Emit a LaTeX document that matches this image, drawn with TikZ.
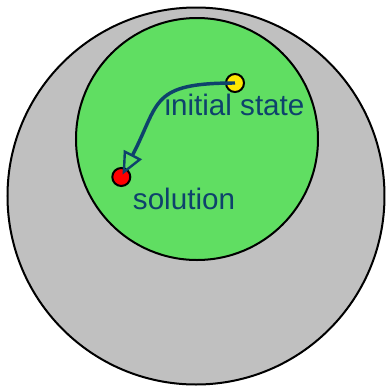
\documentclass[tikz,border=0pt]{standalone}
\usepackage{fontspec}
\setmainfont{Liberation Sans}
\usetikzlibrary{arrows.meta}
\definecolor{spacegray}{RGB}{192,192,192}
\definecolor{feasgreen}{RGB}{96,222,98}
\definecolor{dotyellow}{RGB}{255,232,0}
\definecolor{pathblue}{RGB}{14,66,108}
\begin{document}
\begin{tikzpicture}[x=0.75pt, y=-0.75pt,
        % Common styles
        region/.style={
            circle, draw=black, line width=1.5pt, fill=#1,
            inner sep=0pt, outer sep=0pt
        },
        statedot/.style={
            circle, draw=black, line width=1.5pt, fill=#1,
            minimum size=13.5pt, inner sep=0pt, outer sep=0pt
        },
        lbl/.style={
            text=pathblue, font=\fontsize{22.2}{26}\selectfont,
            anchor=base, inner sep=0pt
        },
        arr/.style={-{Triangle[open, length=17pt, width=15pt, line width=1.8pt]}, line width=2.6pt, draw=pathblue}
    ]
        \useasboundingbox (0,0) rectangle (386,387);

        % Regions
        \node[region=spacegray, minimum size=282.75pt] (space) at (196,196) {};
        \node[region=feasgreen, minimum size=181.5pt] (feas) at (197,139) {};

        % States
        \node[statedot=dotyellow] (ini) at (235,83) {};
        \node[statedot=red] (sol) at (121.3,177) {};
        \node[lbl] (inilbl) at (234.5,115) {initial state};
        \node[lbl] (sollbl) at (184,209) {solution};

        % Search path
        \draw[arr, shorten >=2pt] (ini.center) .. controls (150,83) and (160,102) .. (sol.center);

    \end{tikzpicture}
\end{document}
